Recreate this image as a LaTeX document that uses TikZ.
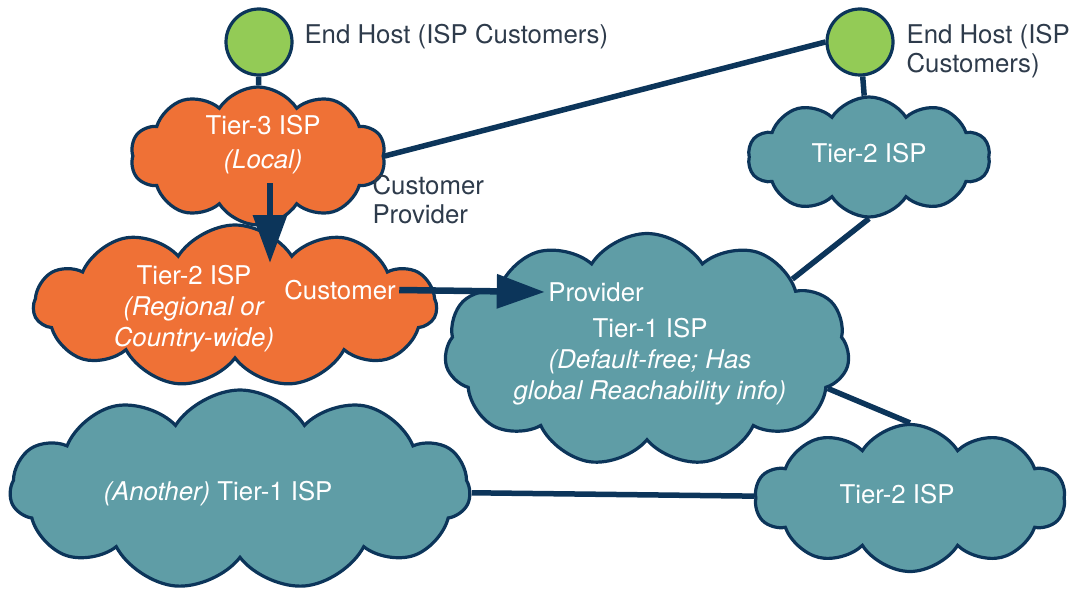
\documentclass[tikz,border=0pt]{standalone}
\usepackage{fontspec}
\setmainfont{TeX Gyre Heros}
\usetikzlibrary{shapes.symbols, arrows.meta}
\definecolor{ispOrange}{HTML}{EF7136}
\definecolor{ispTeal}{HTML}{5F9DA6}
\definecolor{edgeInk}{HTML}{0C355A}
\definecolor{hostGreen}{HTML}{93CB56}
\definecolor{labelInk}{HTML}{2E3B4B}
\pgfdeclarelayer{links}
\pgfsetlayers{links,main}

\begin{document}
\begin{tikzpicture}[x=1pt,y=-1pt,
  isp/.style={cloud, cloud puffs=10, cloud puff arc=115, cloud ignores aspect,
              draw=edgeInk, line width=3.2pt, inner sep=0pt},
  orangeisp/.style={isp, fill=ispOrange},
  tealisp/.style={isp, fill=ispTeal},
  host/.style={circle, draw=edgeInk, line width=3.2pt, fill=hostGreen,
               minimum size=66pt, inner sep=0pt},
  link/.style={draw=edgeInk, line width=5.5pt},
  relation/.style={draw=edgeInk, line width=6.5pt,
                   -{Triangle[length=48pt,width=33pt]}},
  cloudtext/.style={text=white, align=center, font=\fontsize{25.8}{31}\selectfont},
  note/.style={text=labelInk, align=left, anchor=west,
               font=\fontsize{25.8}{29}\selectfont},
]
\useasboundingbox (0,0) rectangle (1092,591);

% ISP clouds
\node[orangeisp, minimum width=255pt, minimum height=138pt] (t3) at (258,156) {};
\node[orangeisp, minimum width=403pt, minimum height=162pt, cloud puffs=11] (t2l) at (235,306) {};
\node[tealisp, minimum width=405pt, minimum height=233pt, cloud puffs=11] (t1) at (647,350) {};
\node[tealisp, minimum width=460pt, minimum height=200pt, cloud puffs=11] (t1b) at (240,490) {};
\node[tealisp, minimum width=242pt, minimum height=120pt] (t2r) at (869,157) {};
\node[tealisp, minimum width=310pt, minimum height=147pt] (t2b) at (910,498) {};

% end hosts
\node[host] (h1) at (259,42) {};
\node[host] (h2) at (860,42) {};

% texts inside the clouds
\node[cloudtext] (t3txt) at (263,145) {Tier-3 ISP\\[3pt]\textit{(Local)}};
\node[cloudtext] (t2ltxt) at (194,309) {Tier-2 ISP\\\textit{(Regional or}\\\textit{Country-wide)}};
\node[cloudtext] (cust) at (340,290) {Customer};
\node[cloudtext] (prov) at (596,292) {Provider};
\node[cloudtext] (t1txt) at (650,362) {Tier-1 ISP\\\textit{(Default-free; Has}\\\textit{global Reachability info)}};
\node[cloudtext] (t1btxt) at (218,494) {\textit{(Another)} Tier-1 ISP};
\node[cloudtext] (t2rtxt) at (869,153) {Tier-2 ISP};
\node[cloudtext] (t2btxt) at (897,494) {Tier-2 ISP};

% labels
\node[note] (h1lbl) at (301,37) {End Host (ISP Customers)};
\node[note] (h2lbl) at (903,51) {End Host (ISP\\Customers)};
\node[note] (cplbl) at (369,200) {Customer\\Provider};

% plain links, kept behind the clouds
\begin{pgfonlayer}{links}
  \draw[link] (h1) -- (t3);
  \draw[link] (t3.east) -- (h2.west);
  \draw[link] (h2) -- (t2r);
  \draw[link] (t1.26) -- (t2r.south);
  \draw[link] (t1.-12) -- (t2b.north);
  \draw[link] (t1b) -- (t2b);
\end{pgfonlayer}

% customer-provider relations
\coordinate (downFrom) at (270,183);
\coordinate (downTo) at (270,263);
\draw[relation] (downFrom) -- (downTo);
\draw[relation] (cust.east) -- (prov.west);
\end{tikzpicture}
\end{document}
